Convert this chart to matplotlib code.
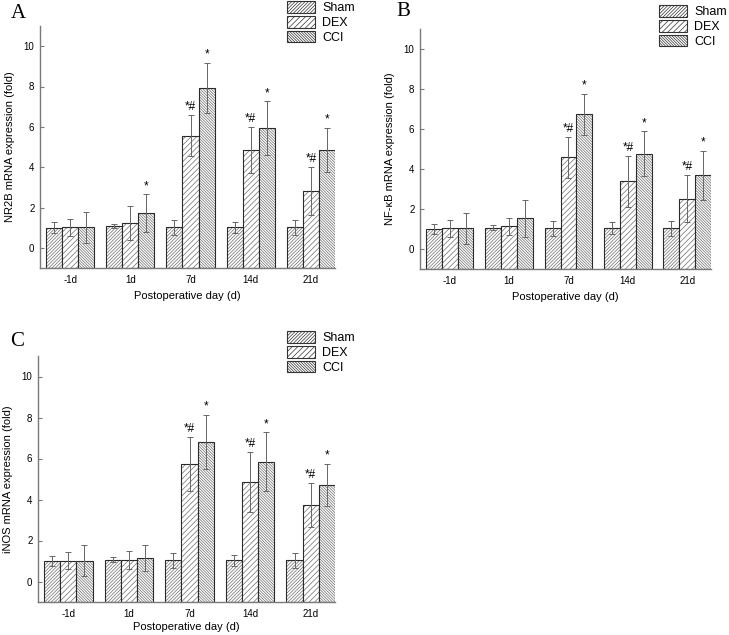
import numpy as np
import matplotlib
matplotlib.use("Agg")
import matplotlib.pyplot as plt
from matplotlib.patches import Patch

plt.rcParams['font.family'] = ['Liberation Sans', 'DejaVu Sans']
plt.rcParams['hatch.linewidth'] = 0.5

# DATA
days = ['-1d', '1d', '7d', '14d', '21d']
groups = ['Sham', 'DEX', 'CCI']

# NR2B
nr2b_sham = [1.00, 1.07, 1.02, 1.02, 1.03]
nr2b_sham_err = [0.27, 0.11, 0.37, 0.27, 0.37]
nr2b_dex = [1.02, 1.23, 5.57, 4.85, 2.82]
nr2b_dex_err = [0.42, 0.83, 1.03, 1.15, 1.20]
nr2b_cci = [1.02, 1.73, 7.94, 5.93, 4.85]
nr2b_cci_err = [0.76, 0.93, 1.23, 1.33, 1.11]
nr2b_dex_mark = ['', '', '*#', '*#', '*#']
nr2b_cci_mark = ['', '*', '*', '*', '*']

# NF-kB
nfkb_sham = [1.00, 1.07, 1.03, 1.03, 1.03]
nfkb_sham_err = [0.24, 0.11, 0.37, 0.30, 0.37]
nfkb_dex = [1.03, 1.13, 4.58, 3.39, 2.52]
nfkb_dex_err = [0.43, 0.41, 1.03, 1.28, 1.18]
nfkb_cci = [1.03, 1.53, 6.73, 4.77, 3.68]
nfkb_cci_err = [0.76, 0.93, 1.04, 1.11, 1.23]
nfkb_dex_mark = ['', '', '*#', '*#', '*#']
nfkb_cci_mark = ['', '', '*', '*', '*']

# iNOS
inos_sham = [1.01, 1.07, 1.03, 1.03, 1.03]
inos_sham_err = [0.24, 0.12, 0.37, 0.27, 0.35]
inos_dex = [1.02, 1.06, 5.72, 4.85, 3.72]
inos_dex_err = [0.43, 0.45, 1.32, 1.46, 1.08]
inos_cci = [1.02, 1.14, 6.80, 5.84, 4.70]
inos_cci_err = [0.76, 0.65, 1.33, 1.44, 1.04]
inos_dex_mark = ['', '', '*#', '*#', '*#']
inos_cci_mark = ['', '', '*', '*', '*']

hatches = ['//////////', '//////', '\\' * 12]
hatch_col = '#6e6e6e'
axis_col = '#7a7a7a'

fig = plt.figure(figsize=(7.29, 6.35), dpi=100)


def panel(rect, letter, letter_xy, ylabel, vals, errs, marks, leg_xy, xpad):
    ax = fig.add_axes(rect)
    x = np.arange(len(days))
    w = 0.267
    for i in range(3):
        xi = x + (i - 1) * w
        v = np.array(vals[i])
        # hatched fill, bars run from the bottom of the axis like Origin
        ax.bar(xi, v + 1, bottom=-1, width=w, color='white', edgecolor=hatch_col,
               hatch=hatches[i], linewidth=0)
        ax.bar(xi, v + 1, bottom=-1, width=w, fill=False, edgecolor='#2a2a2a',
               linewidth=0.8)
        ax.errorbar(xi, v, yerr=errs[i], fmt='none', ecolor='#666666',
                    elinewidth=0.7, capsize=2.2, capthick=0.7)
        if marks[i] is not None:
            for xx, vv, ee, m in zip(xi, v, errs[i], marks[i]):
                if m:
                    ax.text(xx, vv + ee + 0.1, m, ha='center', va='bottom',
                            fontsize=8.5)
    ax.set_xlim(-0.5, 4.4)
    ax.set_ylim(-1, 11)
    ax.set_yticks([0, 2, 4, 6, 8, 10])
    ax.set_xticks(x)
    ax.set_xticklabels(days)
    ax.tick_params(axis='y', direction='in', length=3, color=axis_col,
                   labelsize=7, pad=4)
    ax.tick_params(axis='x', length=0, labelsize=7, pad=5)
    for s in ['top', 'right']:
        ax.spines[s].set_visible(False)
    for s in ['left', 'bottom']:
        ax.spines[s].set_color(axis_col)
        ax.spines[s].set_linewidth(1.0)
    ax.set_xlabel('Postoperative day (d)', fontsize=8, labelpad=xpad)
    ax.set_ylabel(ylabel, fontsize=8, labelpad=6)
    fig.text(letter_xy[0] / 729, 1 - letter_xy[1] / 635, letter,
             family='Liberation Serif', fontsize=15, ha='left', va='center')
    handles = [Patch(facecolor='white', edgecolor='#333333', hatch=hatches[i],
                     linewidth=0.8, label=groups[i]) for i in range(3)]
    ax.legend(handles=handles, loc='upper left',
              bbox_to_anchor=(leg_xy[0] / 729, 1 - leg_xy[1] / 635),
              bbox_transform=fig.transFigure, frameon=False, fontsize=9,
              borderpad=0, borderaxespad=0, handlelength=2.2,
              handleheight=1.05, labelspacing=0.15, handletextpad=0.6)
    return ax


panel([40 / 729, 1 - 268 / 635, 295 / 729, 242 / 635], 'A', (11, 14),
      'NR2B mRNA expression (fold)',
      [nr2b_sham, nr2b_dex, nr2b_cci],
      [nr2b_sham_err, nr2b_dex_err, nr2b_cci_err],
      [None, nr2b_dex_mark, nr2b_cci_mark], (287, 1), 4)

panel([420 / 729, 1 - 269 / 635, 291 / 729, 240 / 635], 'B', (396, 12),
      'NF-\u03baB mRNA expression (fold)',
      [nfkb_sham, nfkb_dex, nfkb_cci],
      [nfkb_sham_err, nfkb_dex_err, nfkb_cci_err],
      [None, nfkb_dex_mark, nfkb_cci_mark], (659, 5), 4)

panel([38 / 729, 1 - 602 / 635, 297 / 729, 246 / 635], 'C', (10, 342),
      'iNOS mRNA expression (fold)',
      [inos_sham, inos_dex, inos_cci],
      [inos_sham_err, inos_dex_err, inos_cci_err],
      [None, inos_dex_mark, inos_cci_mark], (287, 331), 2)

fig.savefig('out.png', dpi=100)
